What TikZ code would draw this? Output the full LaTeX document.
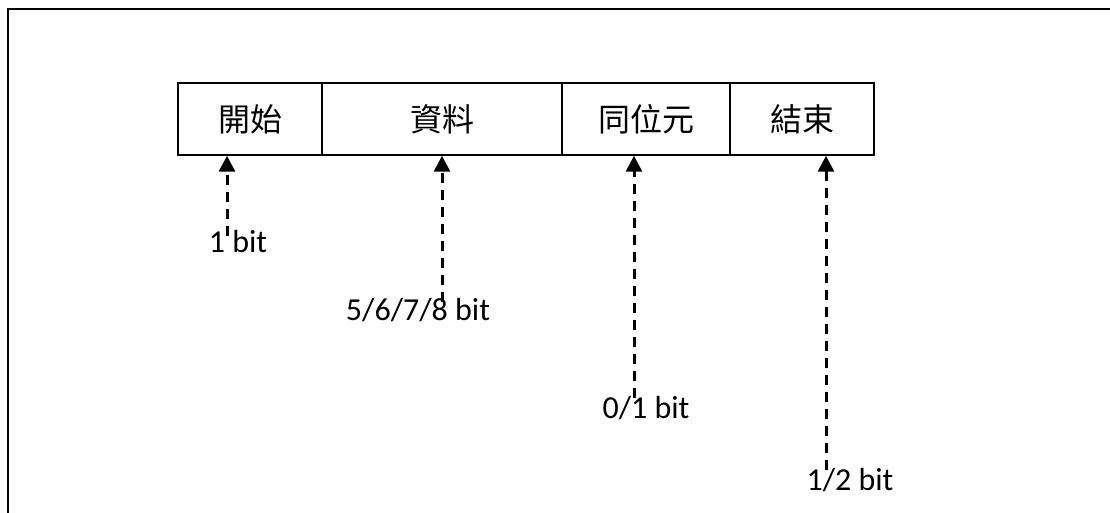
\documentclass[tikz,border=0pt]{standalone}
\usepackage{fontspec}
\setmainfont{Carlito}
\newfontfamily\cjk{Noto Sans CJK TC}
\usetikzlibrary{arrows.meta}
\begin{document}
\begin{tikzpicture}[x=1pt,y=-1pt,
  field/.style={draw,line width=1.5pt,minimum height=72pt,inner sep=0pt,font=\cjk\fontsize{32}{32}\selectfont},
  lbl/.style={inner sep=0pt,font=\fontsize{32}{32}\selectfont},
  ptr/.style={dashed,dash pattern=on 10pt off 7pt,line width=3pt,-{Triangle[width=16pt,length=16pt]}}]
\useasboundingbox (0,0) rectangle (1110,513);
\draw[line width=2pt] (8,513) -- (8,9) -- (1112,9);
\node[field,minimum width=144pt] (b1) at (250,119) {開始};
\node[field,minimum width=240pt] (b2) at (442,119) {資料};
\node[field,minimum width=168pt] (b3) at (646,119) {同位元};
\node[field,minimum width=144pt] (b4) at (802,119) {結束};
\node[lbl] (l1) at (238,242) {1 bit};
\node[lbl] (l2) at (418,310) {5/6/7/8 bit};
\node[lbl] (l3) at (646,408) {0/1 bit};
\node[lbl] (l4) at (850,480) {1/2 bit};
\coordinate (c1) at (227,236);
\coordinate (c2) at (442,302);
\coordinate (c3) at (634,398);
\coordinate (c4) at (826,470);
\draw[ptr] (c1) -- (c1 |- b1.south);
\draw[ptr] (c2) -- (c2 |- b2.south);
\draw[ptr] (c3) -- (c3 |- b3.south);
\draw[ptr] (c4) -- (c4 |- b4.south);
\end{tikzpicture}
\end{document}
